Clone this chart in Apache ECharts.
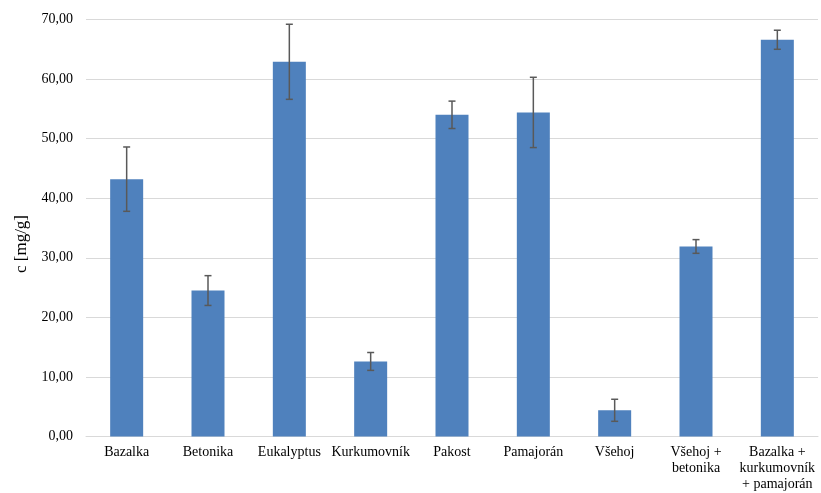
<!DOCTYPE html>
<html><head><meta charset="utf-8">
<script src="https://cdn.jsdelivr.net/npm/echarts@6/dist/echarts.min.js"></script>
<style>html,body{margin:0;padding:0;background:#fff}#c{width:821px;height:493px}</style>
</head><body><div id="c"></div>
<script>
const categories = ['Bazalka','Betonika','Eukalyptus','Kurkumovník','Pakost','Pamajorán','Všehoj','Všehoj +\nbetonika','Bazalka +\nkurkumovník\n+ pamajorán'];
const values = [43.2, 24.5, 62.9, 12.6, 54.0, 54.4, 4.4, 31.9, 66.6];
const errors = [5.4, 2.5, 6.3, 1.5, 2.3, 5.9, 1.85, 1.15, 1.6];
const yTicks = [0, 10, 20, 30, 40, 50, 60, 70];
const yTitle = 'c [mg/g]';

const font = '"Liberation Serif", "Times New Roman", serif';
const chart = echarts.init(document.getElementById('c'), null, {renderer: 'canvas'});
const errData = values.map((v, i) => [i, v - errors[i], v + errors[i]]);
chart.setOption({
  animation: false,
  grid: {left: 86, right: 3, top: 19.5, bottom: 56.5, containLabel: false},
  graphic: [{
    type: 'text', x: 13, y: 244, rotation: Math.PI / 2,
    style: {text: yTitle, fill: '#000', font: '17px ' + font, align: 'center', verticalAlign: 'top'}
  }],
  xAxis: {
    type: 'category', data: categories,
    axisLine: {show: true, lineStyle: {color: '#d9d9d9', width: 1}},
    axisTick: {show: false},
    axisLabel: {interval: 0, color: '#000', fontFamily: font, fontSize: 14, lineHeight: 16, margin: 8}
  },
  yAxis: {
    type: 'value', min: yTicks[0], max: yTicks[yTicks.length - 1], interval: 10,
    axisLine: {show: false}, axisTick: {show: false},
    axisLabel: {color: '#000', fontFamily: font, fontSize: 14, margin: 13,
      formatter: v => v.toFixed(2).replace('.', ',')},
    splitLine: {lineStyle: {color: '#d9d9d9', width: 1}}
  },
  series: [
    {type: 'bar', data: values, barWidth: 33, itemStyle: {color: '#4F81BD'}},
    {type: 'custom', data: errData, z: 10,
      renderItem: function (params, api) {
        const x = api.coord([api.value(0), api.value(1)])[0];
        const lo = api.coord([api.value(0), api.value(1)])[1];
        const hi = api.coord([api.value(0), api.value(2)])[1];
        const hw = 3.5;
        const st = {stroke: '#595959', lineWidth: 1.5};
        return {type: 'group', children: [
          {type: 'line', shape: {x1: x, y1: lo, x2: x, y2: hi}, style: st},
          {type: 'line', shape: {x1: x - hw, y1: lo, x2: x + hw, y2: lo}, style: st},
          {type: 'line', shape: {x1: x - hw, y1: hi, x2: x + hw, y2: hi}, style: st}
        ]};
      }
    }
  ]
});
</script></body></html>
